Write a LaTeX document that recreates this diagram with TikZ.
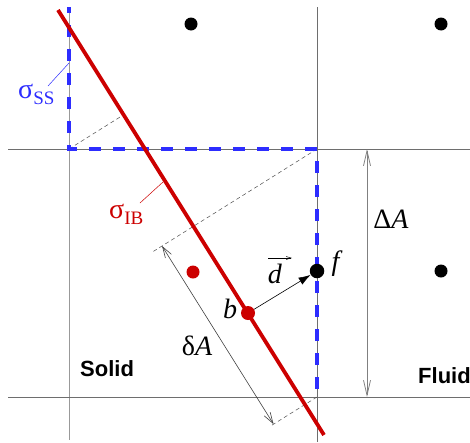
\documentclass[tikz,border=0pt]{standalone}
\usepackage{fontspec}
\setmainfont{Liberation Serif}
\newfontfamily\labsans{Liberation Sans}
\usetikzlibrary{arrows.meta,calc}
\definecolor{ibred}{RGB}{204,0,0}
\definecolor{ssblue}{RGB}{45,45,255}
\definecolor{gridgray}{RGB}{110,110,110}
\tikzset{
  gridline/.style={draw=gridgray,line width=0.8pt},
  ibline/.style={draw=ibred,line width=3.8pt},
  ssline/.style={draw=ssblue,line width=3.6pt,dash pattern=on 12pt off 12pt,dash phase=6pt},
  thindash/.style={draw=black!70,line width=0.5pt,dash pattern=on 4pt off 3pt},
  dimarrow/.style={draw=black!75,line width=0.6pt,{Straight Barb[length=11pt,width=7pt]}-{Straight Barb[length=11pt,width=7pt]}},
  dimarrowgray/.style={draw=gray,line width=0.8pt,{Straight Barb[length=15pt,width=7pt]}-{Straight Barb[length=15pt,width=7pt]}},
  bigmath/.style={inner sep=0pt,font=\fontsize{28}{28}\selectfont},
  sanslab/.style={inner sep=0pt,anchor=west,font=\labsans\bfseries\fontsize{22}{22}\selectfont},
  blackdot/.style={circle,fill=black,inner sep=0pt,minimum size=13pt},
  reddot/.style={circle,fill=ibred,inner sep=0pt,minimum size=13pt},
}
\begin{document}
\begin{tikzpicture}[x=1pt,y=-1pt]
\useasboundingbox (0,0) rectangle (470,442);
% grid
\coordinate (VL1) at (69,7);   \coordinate (VL2) at (69,440);
\coordinate (VR1) at (317,7);  \coordinate (VR2) at (317,442);
\coordinate (HT1) at (8,149);  \coordinate (HT2) at (470,149);
\coordinate (HB1) at (8,397);  \coordinate (HB2) at (470,397);
\draw[gridline,draw=gridgray!70] (VL1) -- (VL2);
\draw[gridline] (VR1) -- (VR2);
\draw[gridline] (HT1) -- (HT2);
\draw[gridline] (HB1) -- (HB2);
% corners
\coordinate (C1) at (69,149);
\coordinate (C2) at (317,149);
\coordinate (C3) at (317,397);
% immersed boundary
\coordinate (R1) at (58,10);
\coordinate (R2) at (324,435);
\coordinate (F1) at ($(R1)!(C1)!(R2)$);
\coordinate (F2) at ($(R1)!(C2)!(R2)$);
\coordinate (F3) at ($(R1)!(C3)!(R2)$);
\coordinate (E2) at ($(F2)!-48pt!(C2)$);
\coordinate (E3) at ($(F3)!-40pt!(C3)$);
\coordinate (A2) at ($(F2)!-37pt!(C2)$);
\coordinate (A3) at ($(F3)!-37pt!(C3)$);
% thin dashed perpendiculars
\draw[thindash] (C1) -- (F1);
\draw[thindash] (C2) -- (E2);
\draw[thindash] (C3) -- (E3);
% blue staircase
\draw[ssline] (VL1) -- (C1) -- (C2) -- (C3);
% red line
\draw[ibline] (R1) -- (R2);
% delta A arrow
\draw[dimarrow] (A2) -- (A3);
\node[bigmath] (dA) at (197,346) {δ\textit{A}};
% Delta A arrow
\coordinate (DA1) at (367,149);
\coordinate (DA2) at (367,397);
\draw[dimarrowgray] (DA1) -- (DA2);
\node[bigmath] (DAl) at (391,219) {Δ\textit{A}};
% cell centres
\node[blackdot] (p1) at (191,24) {};
\node[blackdot] (p2) at (441,24) {};
\node[blackdot] (p3) at (441,271) {};
\node[reddot] (p4) at (193,272) {};
\node[reddot,minimum size=14pt] (b) at (248,313) {};
\node[blackdot,minimum size=14.5pt] (f) at (317,271) {};
\draw[line width=0.6pt,-{Latex[length=12pt,width=8pt]}] (b) -- (f);
\node[bigmath] (bl) at (230,309) {\textit{b}};
\node[bigmath] (fl) at (337,264) {\textit{f}};
\node[bigmath] (dl) at (275,274) {\textit{d}};
\coordinate (dv1) at (268,258);
\coordinate (dv2) at (292,258);
\draw[line width=0.5pt,-{Straight Barb[length=5pt,width=3pt]}] (dv1) -- (dv2);
% sigma labels
\node[bigmath,anchor=west,text=ssblue] (sss) at (18,94) {σ\raisebox{-6pt}{\fontsize{19}{19}\selectfont SS}};
\coordinate (ls1) at (48,86); \coordinate (ls2) at (69,63);
\draw[ssblue,line width=0.5pt] (ls1) -- (ls2);
\node[bigmath,anchor=west,text=ibred] (sib) at (109,214) {σ\raisebox{-6pt}{\fontsize{19}{19}\selectfont IB}};
\coordinate (li1) at (140,203); \coordinate (li2) at (163,182);
\draw[ibred,line width=0.5pt] (li1) -- (li2);
% region labels
\node[sanslab] (solid) at (80,369) {Solid};
\node[sanslab] (fluid) at (418,376) {Fluid};
\end{tikzpicture}
\end{document}
